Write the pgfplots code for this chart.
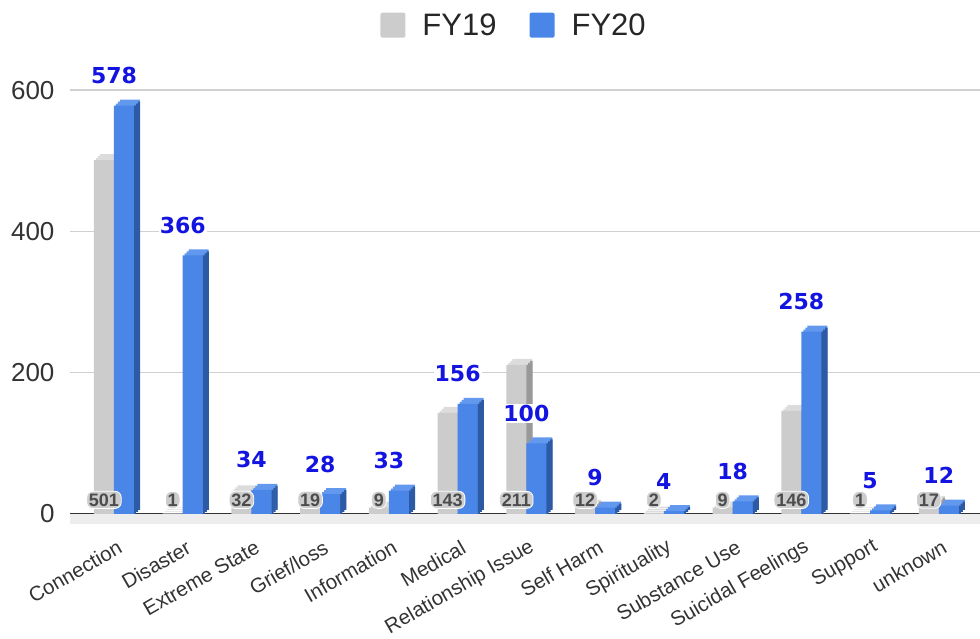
\documentclass[border=0pt]{standalone}
\usepackage{pgfplots}
\pgfplotsset{compat=1.18}
\usepackage{pgfplotstable}
\usepackage{fontspec}
\setmainfont{Liberation Sans}
\newfontfamily\lblfont{DejaVu Sans Bold}
\definecolor{gfront}{HTML}{CCCCCC}
\definecolor{gtop}{HTML}{DCDCDC}
\definecolor{gside}{HTML}{999999}
\definecolor{bfront}{HTML}{4A86E8}
\definecolor{btop}{HTML}{6298EE}
\definecolor{bside}{HTML}{2D5AA5}
\definecolor{lblblue}{RGB}{20,20,225}
\definecolor{txt}{HTML}{333333}
\definecolor{gridc}{HTML}{D0D0D0}
\definecolor{floorc}{HTML}{EDEDED}

\pgfplotstableread{
x fy19 fy20 ly
0 501 578 20
1 1 366 20
2 32 34 20
3 19 28 20
4 9 33 20
5 143 156 20
6 211 100 20
7 12 9 20
8 2 4 20
9 9 18 20
10 146 258 20
11 1 5 20
12 17 12 20
}\data

\pgfplotsset{
  bar3d/.style={ybar, draw=none, forget plot},
}

\begin{document}
\begin{tikzpicture}
\useasboundingbox (-70pt,-125pt) rectangle (910pt,514pt);
\begin{axis}[
  scale only axis, width=910pt, height=438pt,
  xmin=-0.64, xmax=12.6, ymin=0, ymax=620,
  clip=false,
  /pgf/number format/assume math mode=true,
  axis x line*=bottom, axis y line*=left,
  y axis line style={draw=none},
  x axis line style={draw=txt, line width=1.5pt, -},
  ytick={0,200,400,600},
  ytick style={draw=none}, xtick style={draw=none},
  ymajorgrids, major grid style={gridc, line width=1.5pt},
  yticklabel style={font=\fontsize{26}{28}\selectfont, text=txt, xshift=-12pt},
  xtick={0,...,12},
  xticklabels={Connection, Disaster, Extreme State, Grief/loss, Information, Medical, Relationship Issue, Self Harm, Spirituality, Substance Use, Suicidal Feelings, Support, unknown},
  xticklabel style={font=\fontsize{20.5}{22}\selectfont, text=txt, anchor=east, xshift=9pt, yshift=-30pt, rotate=30},
  legend style={at={(0.488,1.116)}, anchor=center, draw=none, fill=none,
    font=\fontsize{31}{34}\selectfont, text=black!85,
    /tikz/every odd column/.append style={column sep=15pt},
    /tikz/every even column/.append style={column sep=31pt}},
  legend columns=2,
  legend image code/.code={\fill[#1, draw=none, rounded corners=2pt] (0pt,-12.5pt) rectangle (25pt,12.5pt);},
]
\addlegendimage{fill=gfront, draw=none}
\addlegendentry{FY19}
\addlegendimage{fill=bfront, draw=none}
\addlegendentry{FY20}

% floor
\fill[floorc] (axis cs:-0.64,0) rectangle ([yshift=-10pt]axis cs:12.6,0);

% FY19 bars (3D look): top faces, side faces, front
\addplot[bar3d, bar width=20pt, bar shift=-4pt, fill=gtop, yshift=6pt] table[x=x,y=fy19]{\data};
\addplot[bar3d, bar width=20pt, bar shift=-6pt, fill=gtop, yshift=4pt] table[x=x,y=fy19]{\data};
\addplot[bar3d, bar width=20pt, bar shift=-8pt, fill=gtop, yshift=2pt] table[x=x,y=fy19]{\data};
\addplot[bar3d, bar width=2.4pt, bar shift=1pt, fill=gside, yshift=0pt] table[x=x,y=fy19]{\data};
\addplot[bar3d, bar width=2.4pt, bar shift=3pt, fill=gside, yshift=2pt] table[x=x,y=fy19]{\data};
\addplot[bar3d, bar width=2.4pt, bar shift=5pt, fill=gside, yshift=4pt] table[x=x,y=fy19]{\data};
\addplot[bar3d, bar width=20pt, bar shift=-10pt, fill=gfront] table[x=x,y=fy19]{\data};

% FY20 bars (3D look)
\addplot[bar3d, bar width=20pt, bar shift=16pt, fill=btop, yshift=6pt] table[x=x,y=fy20]{\data};
\addplot[bar3d, bar width=20pt, bar shift=14pt, fill=btop, yshift=4pt] table[x=x,y=fy20]{\data};
\addplot[bar3d, bar width=20pt, bar shift=12pt, fill=btop, yshift=2pt] table[x=x,y=fy20]{\data};
\addplot[bar3d, bar width=2.4pt, bar shift=21pt, fill=bside, yshift=0pt] table[x=x,y=fy20]{\data};
\addplot[bar3d, bar width=2.4pt, bar shift=23pt, fill=bside, yshift=2pt] table[x=x,y=fy20]{\data};
\addplot[bar3d, bar width=2.4pt, bar shift=25pt, fill=bside, yshift=4pt] table[x=x,y=fy20]{\data};
\addplot[bar3d, bar width=20pt, bar shift=10pt, fill=bfront,
  nodes near coords,
  every node near coord/.append style={font=\lblfont\fontsize{22}{26}\selectfont, text=lblblue, fill=white, inner sep=1pt, anchor=center, yshift=30pt}
] table[x=x,y=fy20]{\data};

% FY19 value labels
\addplot[draw=none, mark=none, forget plot, point meta=explicit,
  nodes near coords,
  every node near coord/.append style={font=\bfseries\fontsize{18}{20}\selectfont, text=black!70, fill=gfront, draw=white, line width=0.8pt, rounded corners=6pt, inner sep=2.2pt, anchor=center, xshift=-10pt}
] table[x=x,y=ly,meta=fy19]{\data};
\end{axis}
\end{tikzpicture}
\end{document}
